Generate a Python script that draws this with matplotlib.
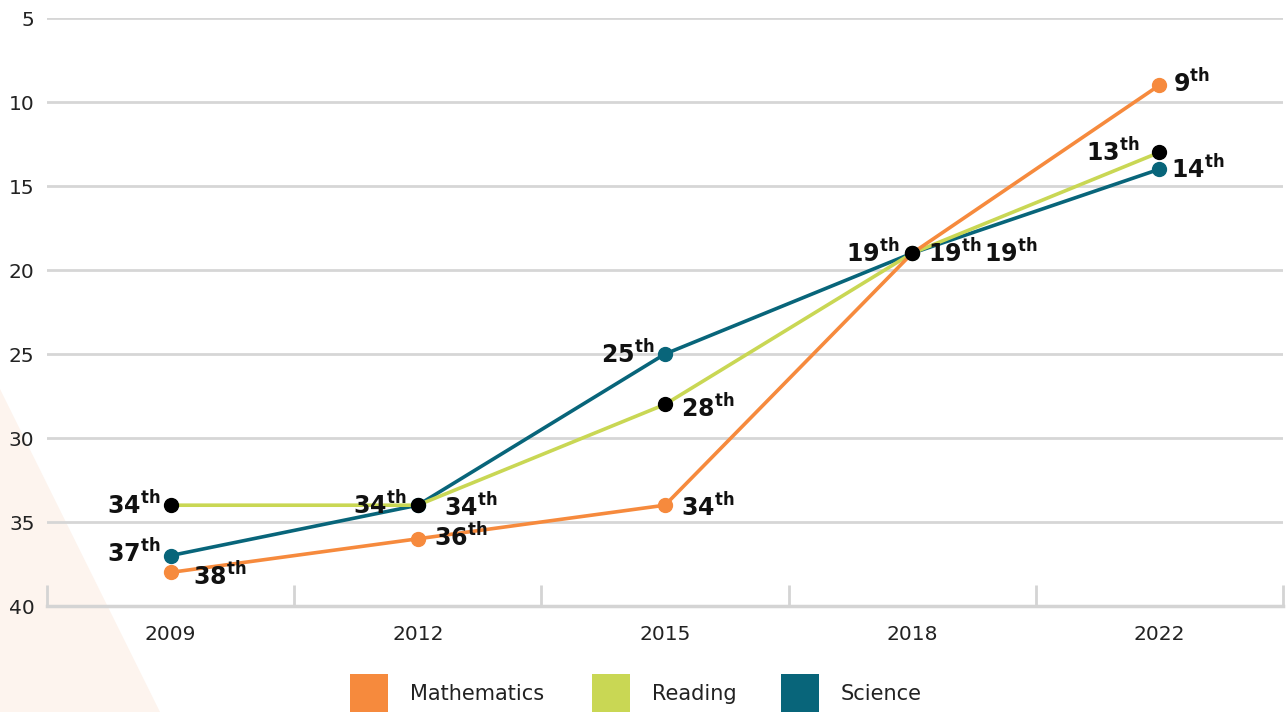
import matplotlib.pyplot as plt
from matplotlib.patches import Polygon, Rectangle

plt.rcParams['font.family'] = ['DejaVu Sans']
plt.rcParams['mathtext.fontset'] = 'dejavusans'

years = ["2009", "2012", "2015", "2018", "2022"]
math_rank = [38, 36, 34, 19, 9]
reading_rank = [34, 34, 28, 19, 13]
science_rank = [37, 34, 25, 19, 14]

series_names = ["Mathematics", "Reading", "Science"]
line_colors = ["#F68A3D", "#C9D754", "#08657A"]
dot_colors = ["#F68A3D", "#000000", "#08657A"]

# where each rank label sits, in pixels from its point
math_offsets = [(22, -4, "left"), (16, 2, "left"), (16, -2, "left"), (72, 0, "left"), (14, 2, "left")]
reading_offsets = [(-10, 0, "right"), (-11, 0, "right"), (16, -4, "left"), (-13, 0, "right"), (-20, 0, "right")]
science_offsets = [(-10, 3, "right"), (26, -2, "left"), (-11, 0, "right"), (16, 0, "left"), (12, 0, "left")]

W, H = 1286, 712
fig = plt.figure(figsize=(W / 100, H / 100), dpi=100)
fig.patches.append(Polygon([[0, 1 - 389 / H], [0, 0], [160 / W, 0]], closed=True,
                           transform=fig.transFigure, facecolor="#FDF4EE", edgecolor="none", zorder=-5))

ax = fig.add_axes([47 / W, 1 - 606 / H, 1236 / W, 588 / H])
ax.patch.set_alpha(0)

x = list(range(len(years)))
ranks = [math_rank, reading_rank, science_rank]
offsets = [math_offsets, reading_offsets, science_offsets]

# lines first: science, reading, math
for i in [2, 1, 0]:
    ax.plot(x, ranks[i], color=line_colors[i], lw=2.6, zorder=3 + (2 - i) * 0.1, solid_capstyle="round")
# dots: math, science, reading on top
for i, z in [(0, 4), (2, 5), (1, 6)]:
    ax.plot(x, ranks[i], ls="none", marker="o", ms=10, color=dot_colors[i], zorder=z)

for vals, offs in zip(ranks, offsets):
    for xi, v, (dx, dy, ha) in zip(x, vals, offs):
        ax.annotate(r"$\mathbf{%d}^{\mathbf{th}}$" % v, (xi, v), xytext=(dx, dy),
                    textcoords="offset pixels", ha=ha, va="center", fontsize=17,
                    color="#111111", zorder=7)

ax.set_xlim(-0.5, 4.5)
ax.set_ylim(40, 5)
ax.set_yticks(range(5, 41, 5))
ax.set_xticks(x, years)
ax.set_xticks([i - 0.5 for i in range(len(years) + 1)], minor=True)
ax.tick_params(axis="x", which="major", length=0, pad=14, labelsize=14.5, labelcolor="#222222")
ax.tick_params(axis="x", which="minor", direction="in", length=15, width=2, color="#D4D4D4")
ax.tick_params(axis="y", length=0, pad=9, labelsize=14.5, labelcolor="#222222")
ax.grid(axis="y", color="#D6D6D6", lw=2)
ax.set_axisbelow(True)
for s in ["left", "right", "top"]:
    ax.spines[s].set_visible(False)
ax.spines["bottom"].set_color("#D4D4D4")
ax.spines["bottom"].set_linewidth(2.5)

# legend drawn by hand
sq_x = [350, 592, 781]
for sx, name, col in zip(sq_x, series_names, line_colors):
    fig.patches.append(Rectangle((sx / W, 0), 38 / W, 38 / H, transform=fig.transFigure,
                                 facecolor=col, edgecolor="none"))
    fig.text((sx + 60) / W, 1 - 694 / H, name, fontsize=15, color="#222222", va="center", ha="left")

fig.savefig("out.png", dpi=100)
